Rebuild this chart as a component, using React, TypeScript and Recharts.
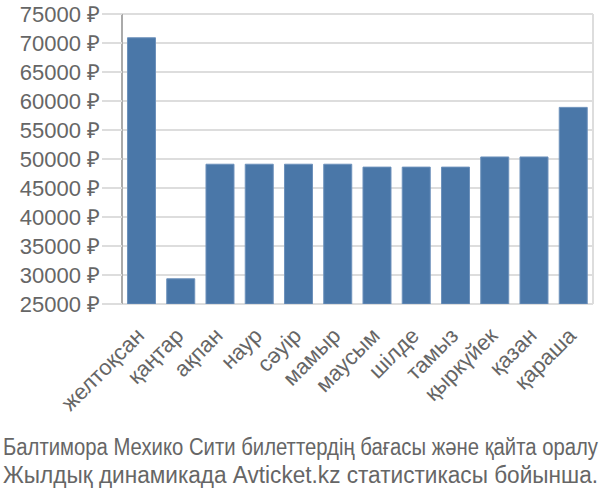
import React from "react";
import { BarChart, Bar, XAxis, YAxis, CartesianGrid } from "recharts";

const months = ["желтоқсан", "қаңтар", "ақпан", "наур", "сәуір", "мамыр", "маусым", "шілде", "тамыз", "қыркүйек", "қазан", "қараша"];
const prices = [70900, 29350, 49100, 49100, 49100, 49100, 48600, 48600, 48600, 50350, 50350, 58900];
const yTicks = [25000, 30000, 35000, 40000, 45000, 50000, 55000, 60000, 65000, 70000, 75000];
const titleLines = [
  "Балтимора Мехико Сити билеттердің бағасы және қайта оралу",
  "Жылдық динамикада Avticket.kz статистикасы бойынша.",
];

const data = months.map((m, i) => ({ month: m, idx: i, price: prices[i] }));
const boundaries = months.map((_, i) => i - 0.5).concat([months.length - 0.5]);

const FONT = "'Liberation Sans', Arial, sans-serif";

const XTick = (props: any) => {
  const { x, y, payload } = props;
  const ax = x + 4;
  const ay = y + 25;
  return (
    <text
      x={ax}
      y={ay}
      transform={`rotate(-45, ${ax}, ${ay})`}
      textAnchor="end"
      fill="#666"
      fontSize={22}
      fontFamily={FONT}
    >
      {payload.value}
    </text>
  );
};

export default function App() {
  return (
    <div style={{ position: "absolute", left: 0, top: 0, width: 600, height: 500, background: "#fff" }}>
      <BarChart
        width={600}
        height={500}
        data={data}
        margin={{ top: 14, right: 7, left: 0, bottom: 0 }}
        barCategoryGap="14%"
      >
        <CartesianGrid xAxisId="g" stroke="#ddd" strokeWidth={2} />
        <XAxis
          xAxisId="g"
          type="number"
          domain={[-0.5, months.length - 0.5]}
          ticks={boundaries}
          height={1}
          tickSize={20}
          tick={false}
          axisLine={false}
          tickLine={{ stroke: "#ddd", strokeWidth: 2 }}
          allowDataOverflow
        />
        <XAxis
          xAxisId="c"
          dataKey="month"
          height={195}
          tickLine={false}
          axisLine={false}
          interval={0}
          tick={<XTick />}
        />
        <YAxis
          domain={[25000, 75000]}
          ticks={yTicks}
          interval={0}
          width={122}
          tickSize={20}
          tickMargin={2}
          tickFormatter={(v: number) => `${v} ₽`}
          tick={{ fill: "#666", fontSize: 22, fontFamily: FONT }}
          tickLine={{ stroke: "#ddd", strokeWidth: 2 }}
          axisLine={{ stroke: "#aaa", strokeWidth: 2 }}
          allowDataOverflow
        />
        <Bar
          xAxisId="c"
          dataKey="price"
          fill="#4a77a8"
          stroke="#6d91bb"
          strokeWidth={1}
          isAnimationActive={false}
        />
      </BarChart>
      <svg width={600} height={500} style={{ position: "absolute", left: 0, top: 0, pointerEvents: "none" }}>
        {titleLines.map((t, i) => (
          <text
            key={i}
            x={3}
            y={455 + i * 28}
            textLength={595}
            lengthAdjust="spacingAndGlyphs"
            fill="#666"
            fontSize={23}
            fontFamily={FONT}
          >
            {t}
          </text>
        ))}
      </svg>
    </div>
  );
}
